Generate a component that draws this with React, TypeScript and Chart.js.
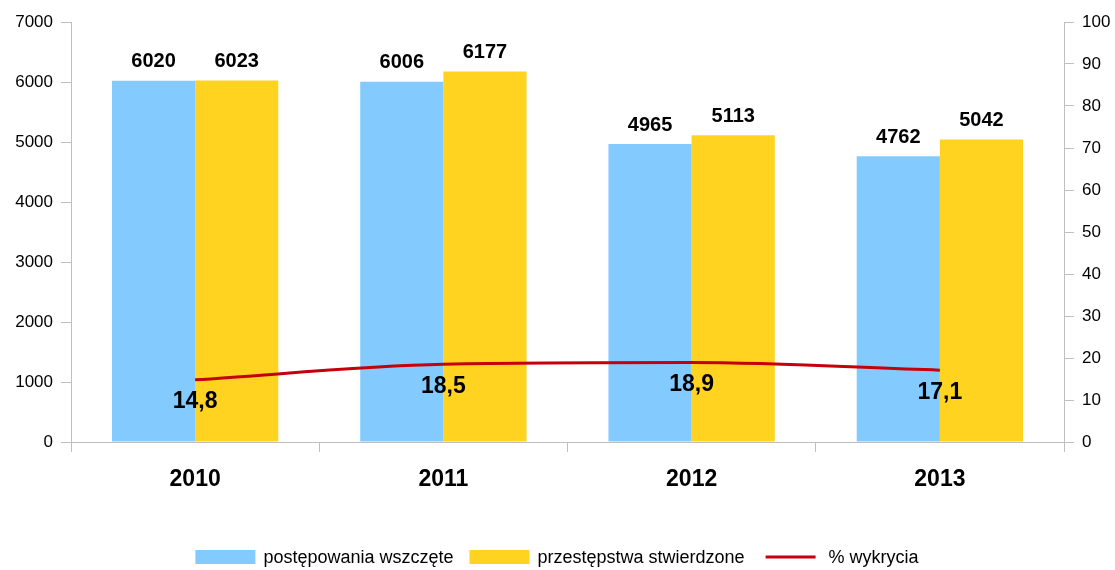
import React, { useEffect, useRef } from "react";
import { Chart, registerables } from "chart.js";

Chart.register(...registerables);

const years = ["2010", "2011", "2012", "2013"];
const initiated = [6020, 6006, 4965, 4762];
const confirmed = [6023, 6177, 5113, 5042];
const detectionRate = [14.8, 18.5, 18.9, 17.1];
const seriesNames = ["postępowania wszczęte", "przestępstwa stwierdzone", "% wykrycia"];
const leftTicks = [0, 1000, 2000, 3000, 4000, 5000, 6000, 7000];
const rightTicks = [0, 10, 20, 30, 40, 50, 60, 70, 80, 90, 100];

const BLUE = "#83CAFF";
const YELLOW = "#FFD320";
const RED = "#C5000B";
const GREY = "#BFBFBF";
const FONT = "'Liberation Sans', Arial, sans-serif";

const labelPlugin = {
  id: "valueLabels",
  afterDatasetsDraw(chart: any) {
    const ctx = chart.ctx;
    ctx.save();
    ctx.fillStyle = "#000";
    ctx.textAlign = "center";
    ctx.textBaseline = "middle";
    [0, 1].forEach((di) => {
      const meta = chart.getDatasetMeta(di);
      const data = chart.data.datasets[di].data;
      ctx.font = `bold 20px ${FONT}`;
      meta.data.forEach((el: any, i: number) => {
        ctx.fillText(String(data[i]), el.x, el.y - 19);
      });
    });
    const lm = chart.getDatasetMeta(2);
    const ld = chart.data.datasets[2].data;
    ctx.font = `bold 23px ${FONT}`;
    lm.data.forEach((el: any, i: number) => {
      ctx.fillText(Number(ld[i]).toFixed(1).replace(".", ","), el.x, el.y + 22);
    });
    ctx.restore();
  },
};

const legendPlugin = {
  id: "customLegend",
  afterDraw(chart: any) {
    const ctx = chart.ctx;
    ctx.save();
    ctx.font = `18px ${FONT}`;
    ctx.textBaseline = "middle";
    ctx.textAlign = "left";
    const boxW = 60;
    const gapText = 8;
    const gapItem = 16;
    const widths = seriesNames.map((n) => boxW + gapText + ctx.measureText(n).width);
    const total = widths.reduce((a, b) => a + b, 0) + gapItem * (widths.length - 1);
    let x = 557 - total / 2;
    const y = 557;
    const colors = [BLUE, YELLOW, RED];
    seriesNames.forEach((n, i) => {
      if (i < 2) {
        ctx.fillStyle = colors[i];
        ctx.fillRect(x, y - 7, boxW, 14);
      } else {
        ctx.strokeStyle = RED;
        ctx.lineWidth = 3;
        ctx.beginPath();
        ctx.moveTo(x + 5, y);
        ctx.lineTo(x + boxW - 5, y);
        ctx.stroke();
      }
      ctx.fillStyle = "#000";
      ctx.fillText(n, x + boxW + gapText, y + 1);
      x += widths[i] + gapItem;
    });
    ctx.restore();
  },
};

export default function App() {
  const ref = useRef<HTMLCanvasElement>(null);
  useEffect(() => {
    if (!ref.current) return;
    const chart = new Chart(ref.current, {
      type: "bar",
      data: {
        labels: years,
        datasets: [
          {
            label: seriesNames[0],
            data: initiated,
            backgroundColor: BLUE,
            yAxisID: "y",
            order: 2,
            categoryPercentage: 0.67,
            barPercentage: 1.0,
          },
          {
            label: seriesNames[1],
            data: confirmed,
            backgroundColor: YELLOW,
            yAxisID: "y",
            order: 2,
            categoryPercentage: 0.67,
            barPercentage: 1.0,
          },
          {
            type: "line",
            label: seriesNames[2],
            data: detectionRate,
            borderColor: RED,
            backgroundColor: RED,
            borderWidth: 3,
            pointRadius: 0,
            cubicInterpolationMode: "monotone",
            yAxisID: "y1",
            order: 1,
          } as any,
        ],
      },
      options: {
        responsive: false,
        animation: false,
        layout: { padding: { top: 22, left: 0, right: 0, bottom: 0 } },
        plugins: {
          legend: { display: false },
          tooltip: { enabled: false },
        },
        scales: {
          x: {
            grid: {
              display: true,
              drawOnChartArea: false,
              tickLength: 10,
              color: GREY,
              offset: true,
            },
            border: { color: GREY, width: 1 },
            ticks: {
              color: "#000",
              font: { family: FONT, size: 23, weight: "bold" },
              padding: 14,
            },
            afterFit(scale: any) {
              scale.height = 128;
            },
          },
          y: {
            position: "left",
            min: 0,
            max: 7000,
            afterBuildTicks(scale: any) {
              scale.ticks = leftTicks.map((v) => ({ value: v }));
            },
            grid: { drawOnChartArea: false, tickLength: 10, color: GREY },
            border: { color: GREY, width: 1 },
            ticks: {
              color: "#000",
              font: { family: FONT, size: 17 },
              padding: 8,
              callback: (v: any) => String(v),
            },
            afterFit(scale: any) {
              scale.width = 71;
            },
          },
          y1: {
            position: "right",
            min: 0,
            max: 100,
            afterBuildTicks(scale: any) {
              scale.ticks = rightTicks.map((v) => ({ value: v }));
            },
            grid: { drawOnChartArea: false, tickLength: 10, color: GREY },
            border: { color: GREY, width: 1 },
            ticks: {
              color: "#000",
              font: { family: FONT, size: 17 },
              padding: 8,
              callback: (v: any) => String(v),
            },
            afterFit(scale: any) {
              scale.width = 51;
            },
          },
        },
      } as any,
      plugins: [labelPlugin, legendPlugin],
    });
    return () => chart.destroy();
  }, []);
  return (
    <div style={{ position: "fixed", left: 0, top: 0, width: 1115, height: 570, background: "#fff" }}>
      <canvas ref={ref} width={1115} height={570} style={{ width: 1115, height: 570, display: "block" }} />
    </div>
  );
}
